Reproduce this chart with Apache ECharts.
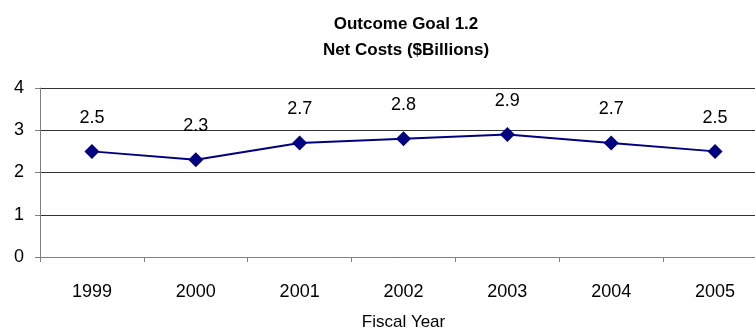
<!DOCTYPE html>
<html>
<head>
<meta charset="utf-8">
<script src="https://cdn.jsdelivr.net/npm/echarts@6/dist/echarts.min.js"></script>
<style>html,body{margin:0;padding:0;background:#fff;}#c{width:755px;height:330px;}</style>
</head>
<body>
<div id="c"></div>
<script>
const categories = ['1999', '2000', '2001', '2002', '2003', '2004', '2005'];
const netCosts = [2.5, 2.3, 2.7, 2.8, 2.9, 2.7, 2.5];
const yTicks = [0, 1, 2, 3, 4];
const titleText = 'Outcome Goal 1.2\nNet Costs ($Billions)';
const xName = 'Fiscal Year';

const FONT = '"Liberation Sans", Arial, sans-serif';
const chart = echarts.init(document.getElementById('c'));
chart.setOption({
  animation: false,
  backgroundColor: '#fff',
  title: {
    text: titleText,
    left: 401,
    top: 6,
    textAlign: 'center',
    textStyle: { fontFamily: FONT, fontSize: 17, fontWeight: 'bold', color: '#000', lineHeight: 26 }
  },
  grid: { left: 40, top: 88, width: 727, bottom: 73, containLabel: false, outerBoundsMode: 'none' },
  xAxis: {
    type: 'category',
    data: categories,
    boundaryGap: true,
    name: xName,
    nameLocation: 'middle',
    nameGap: 57,
    nameTextStyle: { fontFamily: FONT, fontSize: 17, color: '#000' },
    axisLine: { lineStyle: { color: '#808080', width: 1 } },
    axisTick: { show: true, length: 5, inside: false, alignWithLabel: false, lineStyle: { color: '#808080' } },
    axisLabel: { fontFamily: FONT, fontSize: 18, color: '#000', margin: 26 },
    splitLine: { show: false }
  },
  yAxis: {
    type: 'value',
    min: yTicks[0],
    max: yTicks[yTicks.length - 1],
    interval: 1,
    axisLine: { show: true, lineStyle: { color: '#808080', width: 1 } },
    axisTick: { show: true, length: 5, lineStyle: { color: '#808080' } },
    axisLabel: { fontFamily: FONT, fontSize: 18, color: '#000', margin: 16 },
    splitLine: { show: true, lineStyle: { color: '#333', width: 1 } }
  },
  series: [{
    type: 'line',
    data: netCosts,
    symbol: 'diamond',
    symbolSize: 15,
    lineStyle: { color: '#000080', width: 2 },
    itemStyle: { color: '#000080' },
    label: {
      show: true,
      position: 'top',
      distance: 17,
      fontFamily: FONT,
      fontSize: 18,
      color: '#000',
      formatter: p => p.value.toFixed(1)
    }
  }]
});
</script>
</body>
</html>
